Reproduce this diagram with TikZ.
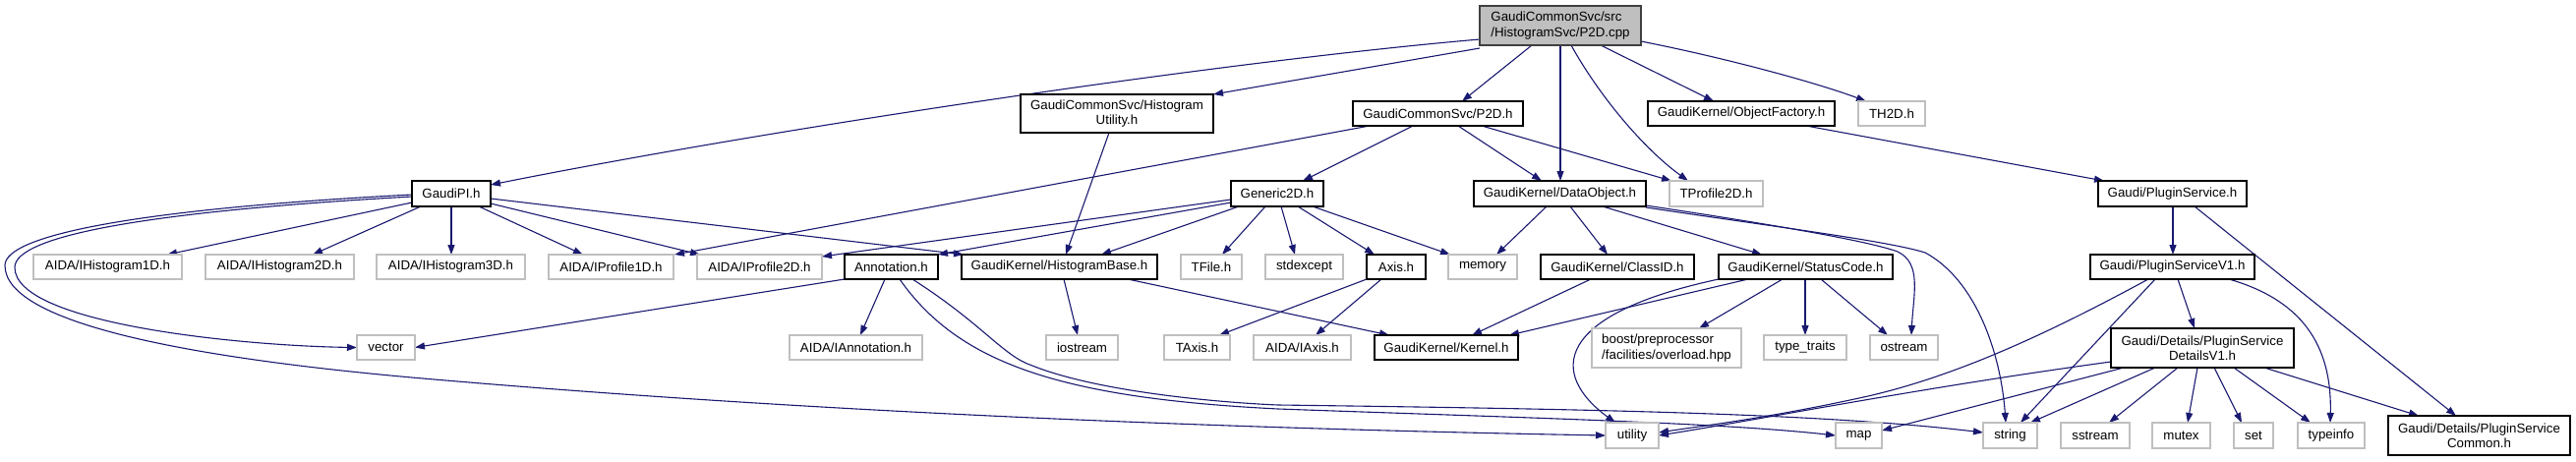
\documentclass[tikz,border=0pt]{standalone}
\usepackage{fontspec}
\setmainfont{Liberation Sans}
\usetikzlibrary{arrows.meta}
\definecolor{edgec}{HTML}{191970}
\definecolor{grayb}{HTML}{BFBFBF}
\definecolor{rootf}{HTML}{BFBFBF}
\definecolor{darkb}{HTML}{404040}
\pgfdeclarelayer{bg}
\pgfsetlayers{bg,main}
\newcommand\bx[7]{\node[#6, minimum width={#3pt-#2pt}, minimum height={#5pt-#4pt}] (#1) at ({(#2+#3)/2},{(#4+#5)/2}) {#7};}
\begin{document}
\begin{tikzpicture}[x=1pt,y=-1pt, font=\fontsize{13.3}{15.3}\selectfont,
  base/.style={rectangle, inner sep=0pt, outer sep=0pt, align=center, line width=1.3pt},
  doc/.style={base, draw=black, fill=white},
  ext/.style={base, draw=grayb, fill=white},
  rootb/.style={base, draw=darkb, fill=rootf, align=left},
  dep/.style={draw=edgec, line width=1.1pt, -{Triangle[length=10pt,width=7pt]}}]
\useasboundingbox (0,0) rectangle (2620,469);
% row 1
\bx{root}{1505}{1669}{6}{46}{rootb}{GaudiCommonSvc/src\\/HistogramSvc/P2D.cpp}
% row 2
\bx{hutil}{1038}{1234}{96}{135}{doc}{GaudiCommonSvc/Histogram\\Utility.h}
\bx{p2dh}{1376}{1549}{103}{128}{doc}{GaudiCommonSvc/P2D.h}
\bx{objf}{1676}{1866}{103}{128}{doc}{GaudiKernel/ObjectFactory.h}
\bx{th2d}{1890}{1958}{103}{128}{ext}{TH2D.h}
% row 3
\bx{gpi}{419}{499}{184}{210}{doc}{GaudiPI.h}
\bx{gen}{1252}{1346}{184}{210}{doc}{Generic2D.h}
\bx{dobj}{1499}{1674}{184}{210}{doc}{GaudiKernel/DataObject.h}
\bx{tp2d}{1698}{1793}{184}{210}{ext}{TProfile2D.h}
\bx{ps}{2134}{2285}{184}{210}{doc}{Gaudi/PluginService.h}
% row 4
\bx{ih1}{34}{185}{259}{284}{ext}{AIDA/IHistogram1D.h}
\bx{ih2}{209}{360}{259}{284}{ext}{AIDA/IHistogram2D.h}
\bx{ih3}{383}{534}{259}{284}{ext}{AIDA/IHistogram3D.h}
\bx{ip1}{558}{685}{259}{284}{ext}{AIDA/IProfile1D.h}
\bx{ip2}{709}{836}{259}{284}{ext}{AIDA/IProfile2D.h}
\bx{ann}{859}{954}{259}{284}{doc}{Annotation.h}
\bx{hb}{978}{1177}{259}{284}{doc}{GaudiKernel/HistogramBase.h}
\bx{tfile}{1201}{1263}{259}{284}{ext}{TFile.h}
\bx{stdex}{1287}{1366}{259}{284}{ext}{stdexcept}
\bx{axis}{1390}{1450}{259}{284}{doc}{Axis.h}
\bx{mem}{1473}{1543}{259}{284}{ext}{memory}
\bx{cid}{1567}{1723}{259}{284}{doc}{GaudiKernel/ClassID.h}
\bx{sc}{1748}{1925}{259}{284}{doc}{GaudiKernel/StatusCode.h}
\bx{psv1}{2126}{2293}{259}{284}{doc}{Gaudi/PluginServiceV1.h}
% row 5
\bx{vec}{363}{422}{341}{366}{ext}{vector}
\bx{iann}{803}{938}{341}{366}{ext}{AIDA/IAnnotation.h}
\bx{ios}{1064}{1137}{341}{366}{ext}{iostream}
\bx{taxis}{1184}{1251}{341}{366}{ext}{TAxis.h}
\bx{iaxis}{1275}{1374}{341}{366}{ext}{AIDA/IAxis.h}
\bx{kern}{1398}{1544}{341}{366}{doc}{GaudiKernel/Kernel.h}
\bx{boost}{1619}{1771}{334}{374}{ext,align=left}{boost/preprocessor\\/facilities/overload.hpp}
\bx{tt}{1794}{1878}{341}{366}{ext}{type\_traits}
\bx{ostr}{1902}{1971}{341}{366}{ext}{ostream}
\bx{det}{2147}{2333}{334}{374}{doc}{Gaudi/Details/PluginService\\DetailsV1.h}
% row 6
\bx{util}{1633}{1687}{430}{456}{ext}{utility}
\bx{map}{1867}{1914}{430}{456}{ext}{map}
\bx{str}{2017}{2072}{430}{456}{ext}{string}
\bx{sstr}{2096}{2166}{430}{456}{ext}{sstream}
\bx{mutex}{2189}{2248}{430}{456}{ext}{mutex}
\bx{set}{2272}{2312}{430}{456}{ext}{set}
\bx{tinfo}{2337}{2405}{430}{456}{ext}{typeinfo}
\bx{psc}{2429}{2614}{423}{463}{doc}{Gaudi/Details/PluginService\\Common.h}

\begin{pgfonlayer}{bg}
% root
\draw[dep] (root.west |- 0,40) .. controls (1250,62) and (800,128) .. (gpi.east |- 0,188);
\draw[dep] (root.west |- 0,49) -- (hutil.north east);
\draw[dep] (root.south -| 1558,0) -- (p2dh.north -| 1487,0);
\draw[dep] (root.south -| 1587,0) -- (dobj.north -| 1587,0);
\draw[dep] (root.south -| 1598,0) .. controls (1625,95) and (1670,150) .. (tp2d.north -| 1717,0);
\draw[dep] (root.south -| 1628,0) -- (objf.north -| 1743,0);
\draw[dep] (root.east |- 0,42) .. controls (1760,60) and (1850,85) .. (th2d.north -| 1898,0);
% histogram utility
\draw[dep] (hutil.south -| 1128,0) -- (hb.north -| 1084,0);
% P2D.h
\draw[dep] (p2dh.south -| 1393,0) -- (ip1.north -| 686,0);
\draw[dep] (p2dh.south -| 1437,0) -- (gen.north -| 1325,0);
\draw[dep] (p2dh.south -| 1483,0) -- (dobj.north -| 1568,0);
\draw[dep] (p2dh.south -| 1507,0) -- (tp2d.north -| 1700,0);
% GaudiPI.h
\draw[dep] (gpi.west |- 0,206) -- (ih1.north -| 170,0);
\draw[dep] (gpi.south -| 428,0) -- (ih2.north -| 318,0);
\draw[dep] (gpi.south -| 459,0) -- (ih3.north -| 459,0);
\draw[dep] (gpi.south -| 487,0) -- (ip1.north -| 593,0);
\draw[dep] (gpi.east |- 0,207) -- (ip2.north -| 712,0);
\draw[dep] (gpi.east |- 0,202) -- (hb.north -| 980,0);
\draw[dep] (gpi.west |- 0,200) .. controls (150,215) and (15,240) .. (15,272) .. controls (15,330) and (250,352) .. (vec.west);
\draw[dep] (gpi.west |- 0,198) .. controls (150,212) and (5,238) .. (5,270) .. controls (5,330) and (200,365) .. (430,385) .. controls (800,417) and (1200,435) .. (util.west |- 0,443);
% Generic2D.h
\draw[dep] (gen.west |- 0,203) -- (ip2.east |- 0,261);
\draw[dep] (gen.west |- 0,206) -- (ann.north east);
\draw[dep] (gen.south -| 1260,0) -- (hb.north -| 1120,0);
\draw[dep] (gen.south -| 1287,0) -- (tfile.north -| 1243,0);
\draw[dep] (gen.south -| 1303,0) -- (stdex.north -| 1317,0);
\draw[dep] (gen.south -| 1320,0) -- (axis.north -| 1398,0);
\draw[dep] (gen.south -| 1335,0) -- (mem.north -| 1475,0);
% DataObject.h
\draw[dep] (dobj.south -| 1573,0) -- (mem.north -| 1522,0);
\draw[dep] (dobj.south -| 1597,0) -- (cid.north -| 1635,0);
\draw[dep] (dobj.south -| 1630,0) -- (sc.north -| 1792,0);
\draw[dep] (dobj.east |- 0,209) .. controls (1800,228) and (1900,245) .. (1930,256) .. controls (1955,268) and (1946,300) .. (ostr.north -| 1944,0);
\draw[dep] (dobj.east |- 0,211) .. controls (1800,230) and (1920,245) .. (1958,257) .. controls (2010,285) and (2035,360) .. (str.north -| 2040,0);
% StatusCode.h
\draw[dep] (sc.south west) .. controls (1580,320) and (1575,380) .. (util.north -| 1643,0);
\draw[dep] (sc.south -| 1778,0) -- (kern.north -| 1535,0);
\draw[dep] (sc.south -| 1813,0) -- (boost.north -| 1728,0);
\draw[dep] (sc.south -| 1836,0) -- (tt.north -| 1836,0);
\draw[dep] (sc.south -| 1852,0) -- (ostr.north -| 1920,0);
% ClassID.h
\draw[dep] (cid.south -| 1618,0) -- (kern.north -| 1497,0);
% Axis.h
\draw[dep] (axis.south west) -- (taxis.north -| 1240,0);
\draw[dep] (axis.south -| 1405,0) -- (iaxis.north -| 1338,0);
% HistogramBase.h
\draw[dep] (hb.south -| 1082,0) -- (ios.north -| 1096,0);
\draw[dep] (hb.south -| 1147,0) -- (kern.north -| 1413,0);
% Annotation.h
\draw[dep] (ann.south -| 900,0) -- (iann.north -| 875,0);
\draw[dep] (ann.south west) -- (vec.east);
\draw[dep] (ann.south -| 915,0) .. controls (975,370) and (1080,405) .. (1300,416) .. controls (1550,425) and (1750,430) .. (map.west);
\draw[dep] (ann.south -| 928,0) .. controls (1000,330) and (1020,362) .. (1050,372) .. controls (1120,400) and (1250,410) .. (1300,412) .. controls (1600,416) and (1850,420) .. (str.west |- 0,440);
% PluginServiceV1.h
\draw[dep] (psv1.south -| 2185,0) .. controls (2100,330) and (2000,380) .. (1900,403) .. controls (1800,425) and (1740,432) .. (util.east |- 0,440);
\draw[dep] (psv1.south -| 2192,0) -- (str.north -| 2055,0);
\draw[dep] (psv1.south -| 2215,0) -- (det.north -| 2232,0);
\draw[dep] (psv1.south -| 2267,0) .. controls (2340,305) and (2372,350) .. (tinfo.north -| 2370,0);
% DetailsV1.h
\draw[dep] (det.west |- 0,368) .. controls (1950,395) and (1800,425) .. (util.east |- 0,443);
\draw[dep] (det.south -| 2160,0) -- (map.east |- 0,438);
\draw[dep] (det.south -| 2192,0) -- (str.north -| 2065,0);
\draw[dep] (det.south -| 2215,0) -- (sstr.north -| 2145,0);
\draw[dep] (det.south -| 2235,0) -- (mutex.north -| 2225,0);
\draw[dep] (det.south -| 2252,0) -- (set.north -| 2280,0);
\draw[dep] (det.south -| 2272,0) -- (tinfo.north -| 2350,0);
\draw[dep] (det.south -| 2303,0) -- (psc.north -| 2460,0);
% PluginService.h
\draw[dep] (ps.south -| 2210,0) -- (psv1.north -| 2210,0);
\draw[dep] (ps.south -| 2232,0) -- (psc.north -| 2498,0);
% ObjectFactory.h
\draw[dep] (objf.south -| 1837,0) -- (ps.north -| 2140,0);
\end{pgfonlayer}
\end{tikzpicture}
\end{document}
